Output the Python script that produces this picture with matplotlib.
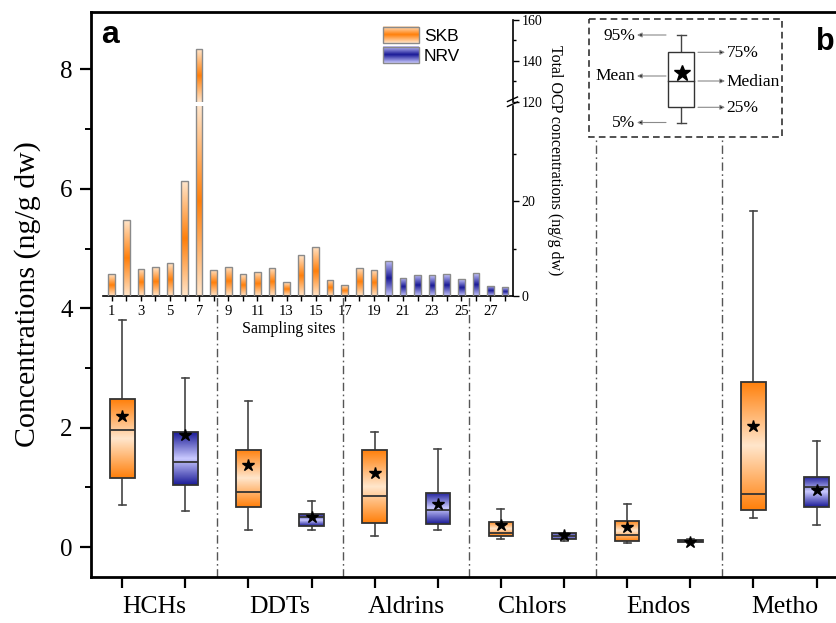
import numpy as np
import matplotlib
matplotlib.use('Agg')
import matplotlib.pyplot as plt
from matplotlib.colors import LinearSegmentedColormap
from matplotlib.ticker import FixedLocator
from matplotlib.patches import Rectangle

plt.rcParams['font.family'] = ['Liberation Serif', 'DejaVu Serif']

# ---------------- data ----------------
groups = ['HCHs', 'DDTs', 'Aldrins', 'Chlors', 'Endos', 'Metho']
regions = ['SKB', 'NRV']
# box order: HCHs-SKB, HCHs-NRV, DDTs-SKB, DDTs-NRV, ...
p05 = [0.71, 0.60, 0.29, 0.29, 0.19, 0.28, 0.13, 0.105, 0.067, 0.07, 0.49, 0.37]
p25 = [1.165, 1.04, 0.67, 0.36, 0.41, 0.38, 0.18, 0.14, 0.095, 0.08, 0.625, 0.665]
p50 = [1.96, 1.43, 0.925, 0.51, 0.85, 0.62, 0.245, 0.19, 0.195, 0.10, 0.885, 1.00]
p75 = [2.48, 1.92, 1.63, 0.55, 1.63, 0.91, 0.42, 0.235, 0.435, 0.115, 2.77, 1.17]
p95 = [3.80, 2.83, 2.45, 0.775, 1.92, 1.65, 0.64, 0.245, 0.73, 0.13, 5.62, 1.785]
means = [2.19, 1.87, 1.37, 0.50, 1.24, 0.72, 0.37, 0.195, 0.345, 0.09, 2.02, 0.96]

sites = list(range(1, 29))
site_region = ['SKB'] * 19 + ['NRV'] * 9
total_ocp = [4.6, 16.0, 5.7, 6.1, 6.9, 24.2, 145.7, 5.5, 6.2, 4.6, 5.1, 6.0, 2.9, 8.6,
             10.4, 3.4, 2.3, 6.0, 5.5, 7.4, 3.8, 4.5, 4.4, 4.6, 3.5, 4.8, 2.2, 1.8]

# ---------------- styles ----------------
cmaps = {
    'SKB': LinearSegmentedColormap.from_list('skb', ['#FFE6CC', '#FF7F0A']),
    'NRV': LinearSegmentedColormap.from_list('nrv', ['#CACAFF', '#1A1A96']),
}
tt = np.linspace(0, 1, 256)
edge_grad = np.abs(2 * tt - 1).reshape(-1, 1)     # dark at ends, light in middle
mid_grad = 1 - edge_grad                            # dark in middle, light at ends

W, H = 837, 623
fig = plt.figure(figsize=(W / 100, H / 100), dpi=100)


def fbox(x0, y0, x1, y1):
    """pixel box (top-left origin) -> figure fraction rect"""
    return [x0 / W, 1 - y1 / H, (x1 - x0) / W, (y1 - y0) / H]


# ---------------- main axes ----------------
ax = fig.add_axes(fbox(90.7, 12, 848.1, 577))
positions = np.arange(1, len(p50) + 1)
stats = [dict(med=p50[i], q1=p25[i], q3=p75[i], whislo=p05[i], whishi=p95[i],
              mean=means[i], fliers=[], label='') for i in range(len(p50))]
bp = ax.bxp(stats, positions=positions, widths=0.39, capwidths=0.11,
            patch_artist=True, showmeans=True, showfliers=False, manage_ticks=False,
            boxprops=dict(facecolor='none', edgecolor='#333333', linewidth=1.3, zorder=3),
            whiskerprops=dict(color='#444444', linewidth=1.2),
            capprops=dict(color='#444444', linewidth=1.2),
            medianprops=dict(color='#333333', linewidth=1.3, zorder=4),
            meanprops=dict(marker='*', markerfacecolor='black', markeredgecolor='black',
                           markersize=9, zorder=5))
for i, box in enumerate(bp['boxes']):
    v = box.get_path().vertices
    reg = regions[i % 2]
    im = ax.imshow(edge_grad, extent=[v[:, 0].min(), v[:, 0].max(), v[:, 1].min(), v[:, 1].max()],
                   origin='lower', aspect='auto', cmap=cmaps[reg], vmin=0, vmax=1,
                   interpolation='bilinear', zorder=2.5)
    im.set_clip_path(box)

# group separators
ax.vlines([2.5, 4.5, 6.5], -0.5, 4.2, colors='#555555', linewidth=1.0,
          linestyles=[(0, (6, 2.5, 1.2, 2.5))])
ax.vlines([8.5, 10.5], -0.5, 6.87, colors='#555555', linewidth=1.0,
          linestyles=[(0, (6, 2.5, 1.2, 2.5))])

ax.set_xlim(0.5, 12.5)
ax.set_ylim(-0.5, 8.96)
ax.set_yticks([0, 2, 4, 6, 8])
ax.yaxis.set_minor_locator(FixedLocator([1, 3, 5, 7]))
ax.set_xticks(positions)
ax.set_xticklabels([''] * len(positions))
ax.xaxis.set_minor_locator(FixedLocator(np.arange(1.5, 12.5, 2)))
ax.set_xticklabels(groups, minor=True)
ax.tick_params(axis='y', which='major', direction='out', length=8, width=1.6, labelsize=18, pad=5)
ax.tick_params(axis='y', which='minor', direction='out', length=4, width=1.4)
ax.tick_params(axis='x', which='major', direction='out', length=8, width=1.6)
ax.tick_params(axis='x', which='minor', length=0, labelsize=18.5, pad=14)
for s in ['left', 'bottom', 'top']:
    ax.spines[s].set_linewidth(2)
ax.spines['right'].set_visible(False)
fig.text(28 / W, 1 - 294.5 / H, 'Concentrations (ng/g dw)', rotation=90,
         ha='center', va='center', fontsize=21.5)

# ---------------- inset (broken y axis) ----------------
ax_lo = fig.add_axes(fbox(103.3, 106, 512.7, 296))
ax_hi = fig.add_axes(fbox(103.3, 20, 512.7, 101.7))
for a, lims in ((ax_lo, (0, 40)), (ax_hi, (120, 160))):
    a.set_facecolor('none')
    a.spines['left'].set_visible(False)
    a.spines['top'].set_visible(False)
    a.spines['right'].set_linewidth(1.2)
    a.spines['bottom'].set_linewidth(1.2)
    a.yaxis.tick_right()
    a.set_xlim(0.42, 28.53)
    a.set_ylim(*lims)
    bars = a.bar(sites, total_ocp, width=0.45, facecolor='none', edgecolor='#8a8a8a',
                 linewidth=1.0, zorder=3)
    for rect, reg in zip(bars, site_region):
        y0 = max(rect.get_y(), lims[0])
        y1 = min(rect.get_y() + rect.get_height(), lims[1])
        if y1 <= y0:
            continue
        im = a.imshow(mid_grad, extent=[rect.get_x(), rect.get_x() + rect.get_width(), y0, y1],
                      origin='lower', aspect='auto', cmap=cmaps[reg], vmin=0, vmax=1,
                      interpolation='bilinear', zorder=2)
        im.set_clip_path(rect)
    a.set_xlim(0.42, 28.53)
    a.set_ylim(*lims)
    a.tick_params(axis='y', which='major', direction='out', length=4.5, width=1.0,
                  labelsize=10, pad=2)
    a.tick_params(axis='y', which='minor', direction='out', length=2.5, width=1.0)

ax_lo.set_yticks([0, 20])
ax_lo.yaxis.set_minor_locator(FixedLocator([10, 30]))
ax_hi.set_yticks([120, 140, 160])
ax_hi.yaxis.set_minor_locator(FixedLocator([130, 150]))
ax_hi.spines['bottom'].set_visible(False)
ax_hi.tick_params(axis='x', bottom=False, labelbottom=False)
ax_lo.set_xticks(sites)
ax_lo.set_xticklabels([str(s) if s % 2 else '' for s in sites])
ax_lo.tick_params(axis='x', direction='out', length=3.5, width=1.0, labelsize=10.5, pad=3)
ax_lo.set_xlabel('Sampling sites', fontsize=11.5)
ax_lo.xaxis.set_label_coords((289 - 103.3) / (512.7 - 103.3), -0.13)
ax_lo.xaxis.label.set_va('top')
fig.text(555 / W, 1 - 160 / H, 'Total OCP concentrations (ng/g dw)', rotation=270,
         ha='center', va='center', fontsize=11.5)

# ---------------- overlay (legends, panel letters) ----------------
ov = fig.add_axes([0, 0, 1, 1], zorder=10)
ov.set_facecolor('none')

# axis-break marks
for yb in (98.5, 103.5):
    ov.plot([507.5, 517.5], [yb + 3, yb - 1.5], color='black', lw=1.0)

# SKB / NRV legend
for (y0, y1), reg, lab in (((26.7, 43.3), 'SKB', 'SKB'), ((46.7, 63.3), 'NRV', 'NRV')):
    ov.imshow(mid_grad, extent=[383, 419, y1, y0], origin='lower', aspect='auto',
              cmap=cmaps[reg], vmin=0, vmax=1, interpolation='bilinear', zorder=2)
    ov.add_patch(Rectangle((383, y0), 36, y1 - y0, fill=False, ec='#8a8a8a', lw=1.0, zorder=3))
    ov.text(424, y1 - 2.6, lab, fontsize=12.5, family='Liberation Sans', ha='left', va='baseline')

# panel letters
ov.text(101, 43.3, 'a', fontsize=23, fontweight='bold', family='Liberation Sans', va='baseline')
ov.text(816, 50, 'b', fontsize=22, fontweight='bold', family='Liberation Sans', va='baseline')

# box legend (schematic)
ov.add_patch(Rectangle((589, 19), 193, 118, fill=False, ec='#333333', lw=1.2,
                       ls=(0, (4, 2.5)), zorder=3))
ov.add_patch(Rectangle((668, 52), 26, 55, facecolor='white', ec='#333333', lw=1.0, zorder=3))
ov.plot([668, 694], [81, 81], color='#333333', lw=1.0, zorder=4)
ov.plot([681, 681], [35, 52], color='#444444', lw=1.0)
ov.plot([681, 681], [107, 123], color='#444444', lw=1.0)
ov.plot([677, 686], [35, 35], color='#444444', lw=1.0)
ov.plot([677, 686], [123, 123], color='#444444', lw=1.0)
ov.plot([682], [73], marker='*', color='black', markersize=12, zorder=5)

arrow_kw = dict(arrowstyle='-|>', mutation_scale=7, lw=0.8, ec='#8a8a8a', fc='black',
                shrinkA=0, shrinkB=0)
for y, lab in ((35, '95%'), (76, 'Mean'), (122.5, '5%')):
    ov.annotate('', xy=(637, y), xytext=(666, y), arrowprops=arrow_kw)
    ov.text(635, y + 0.5, lab, ha='right', va='center', fontsize=12.5)
for y, lab in ((52.3, '75%'), (81, 'Median'), (107.3, '25%')):
    ov.annotate('', xy=(725, y), xytext=(698, y), arrowprops=arrow_kw)
    ov.text(726.5, y + 1, lab, ha='left', va='center', fontsize=12.5)

ov.set_xlim(0, W)
ov.set_ylim(H, 0)
ov.set_axis_off()

fig.savefig('out.png', dpi=100)
